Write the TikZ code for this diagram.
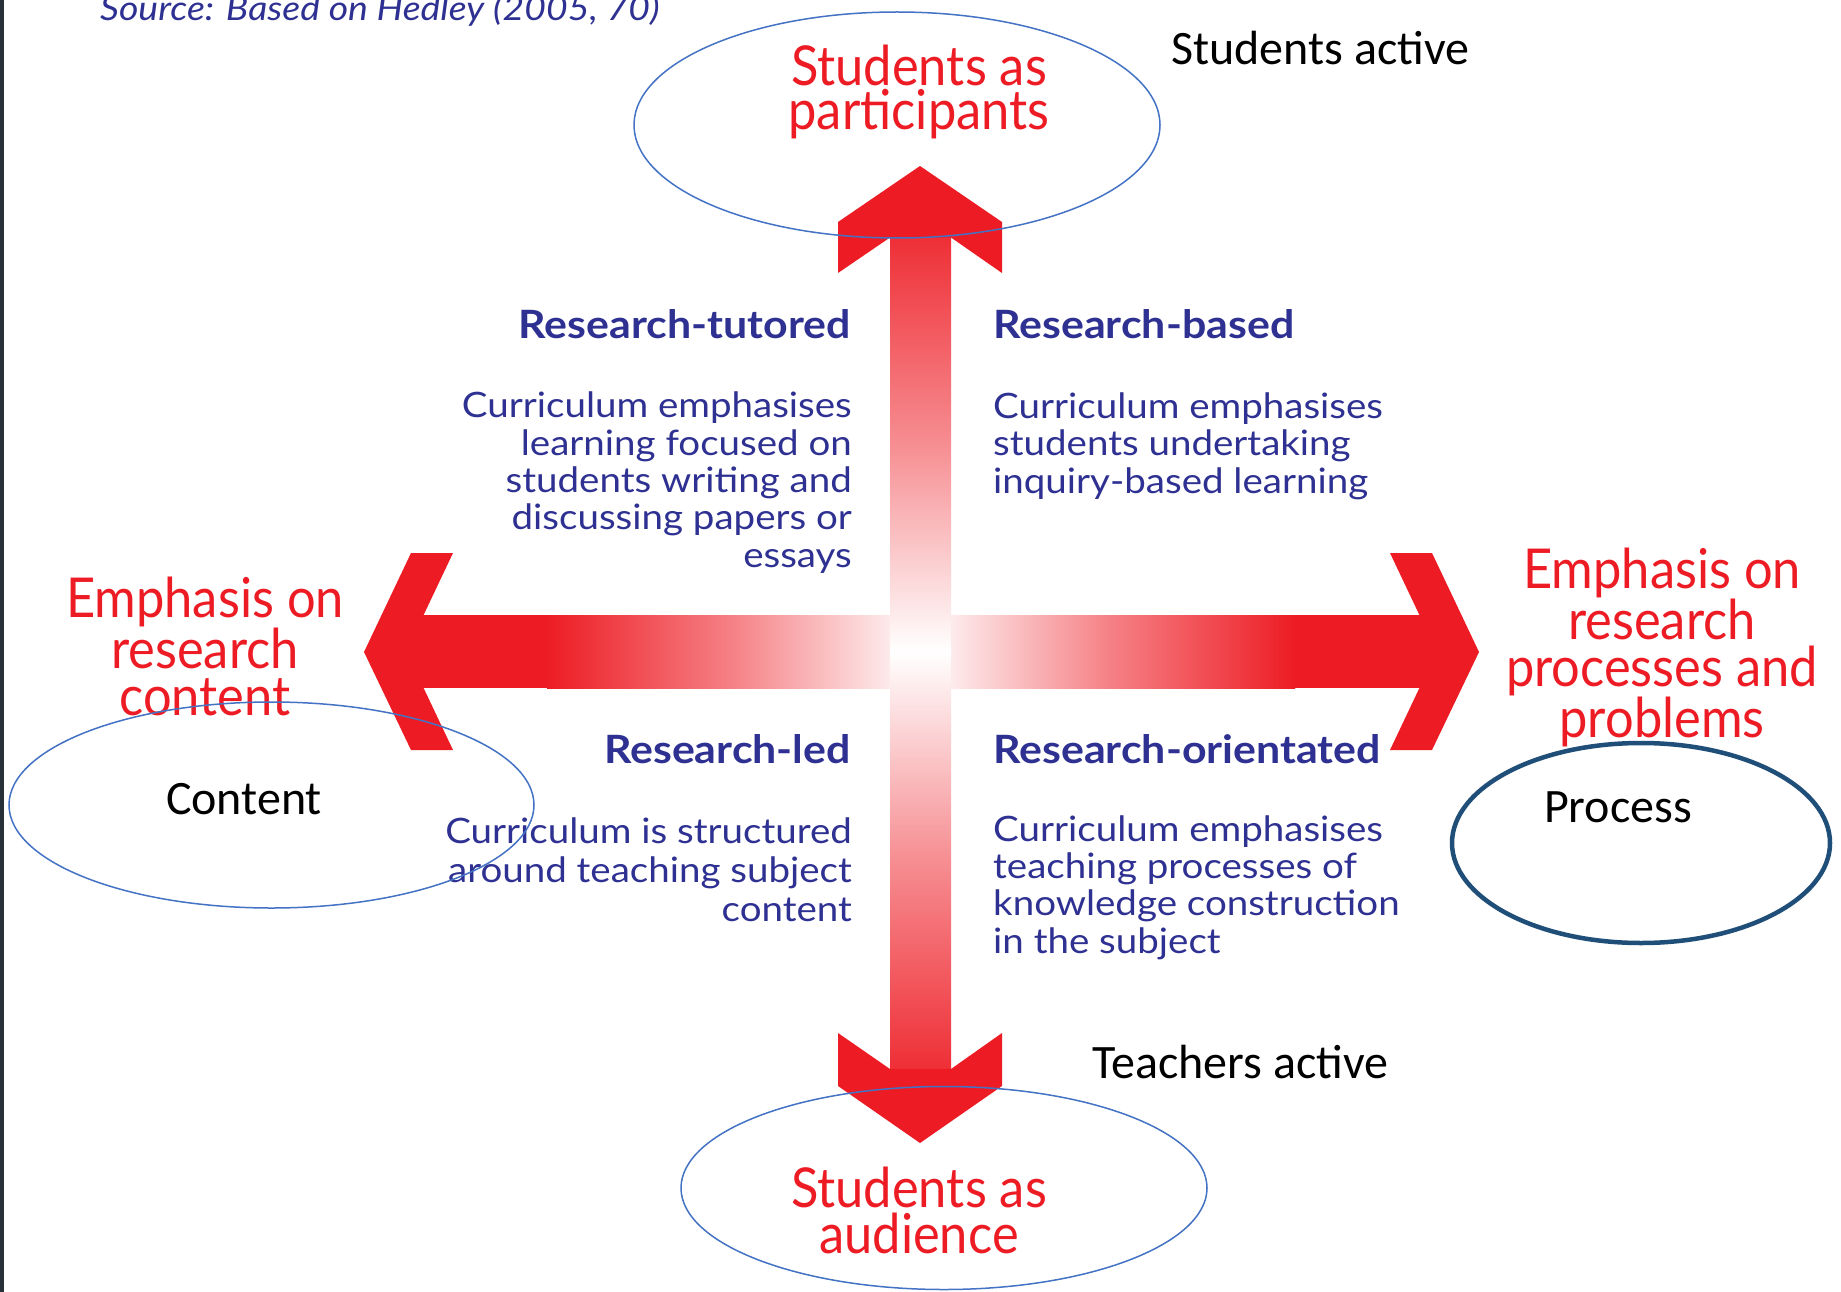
\documentclass[tikz,border=0pt]{standalone}
\usepackage{fontspec}
\setmainfont{Carlito}
\newfontfamily\gill[FakeStretch=1.1]{Lato}
\newfontfamily\gillred[FakeStretch=0.92]{Lato}
\newfontfamily\calibri{Carlito}
\usetikzlibrary{shapes.geometric}
\definecolor{arrred}{HTML}{ED1C24}
\definecolor{navy}{HTML}{2E3192}
\definecolor{ellblue}{HTML}{4472C4}
\definecolor{procblue}{HTML}{1F4E79}
\definecolor{stripcol}{HTML}{263238}
\begin{document}
\begin{tikzpicture}[x=1pt,y=-1pt,
  redtitle/.style={text=arrred, align=center, inner sep=0pt, anchor=base, font=\gillred\fontsize{55}{44}\selectfont},
  heading/.style={text=navy, inner sep=0pt, font=\gill\bfseries\fontsize{39}{39}\selectfont},
  bodytext/.style={text=navy, inner sep=0pt, font=\gill\fontsize{35}{37.3}\selectfont},
  calib/.style={text=black, inner sep=0pt, font=\calibri\fontsize{48}{50}\selectfont},
  ell/.style={ellipse, draw=ellblue, line width=1.5pt, inner sep=0pt},
  arrowfill/.style={fill=arrred, draw=none}]
\useasboundingbox (0,0) rectangle (1841,1292);
\clip (0,0) rectangle (1841,1292);
\fill[white] (0,0) rectangle (1841,1292);
\fill[stripcol] (0,0) rectangle (3.5,1292);

% horizontal shaft
\fill[arrred] (423,615) rectangle (548,688);
\shade[left color=arrred, right color=white, middle color=arrred!55] (547,615) rectangle (921,688);
\shade[left color=white, right color=arrred, middle color=arrred!55] (920,615) rectangle (1295,688);
\fill[arrred] (1294,615) rectangle (1420,688);
% vertical shaft
\shade[top color=arrred!92, bottom color=white, middle color=arrred!50] (890,236) rectangle (951,652);
\shade[top color=white, bottom color=arrred!92, middle color=arrred!50] (890,651) rectangle (951,1070);
% heads
\fill[arrowfill] (920,166) -- (1002,222) -- (1002,273) -- (951,237.5) -- (890,237.5) -- (838,273) -- (838,222) -- cycle;
\fill[arrowfill] (920,1143) -- (1002,1086) -- (1002,1033) -- (951,1069) -- (890,1069) -- (838,1033) -- (838,1086) -- cycle;
\fill[arrowfill] (364,652) -- (411,553) -- (453,553) -- (423.6,615) -- (423.6,688) -- (453,750) -- (411,750) -- cycle;
\fill[arrowfill] (1479,652) -- (1432,553) -- (1390,553) -- (1419.4,615) -- (1419.4,688) -- (1390,750) -- (1432,750) -- cycle;

% source
\node[text=navy, inner sep=0pt, anchor=base west, font=\gill\itshape\fontsize{34}{34}\selectfont] (source) at (100,21) {Source: Based on Hedley (2005, 70)};

% red titles (anchor = baseline of last line)
\node[redtitle] (sap) at (919,130) {Students as\\participants};
\node[redtitle, font=\gillred\fontsize{55}{46}\selectfont] (saa) at (919,1253) {Students as\\audience};
\node[redtitle, font=\gillred\fontsize{55}{47}\selectfont] (erc) at (205,715) {Emphasis on\\research\\content};
\node[redtitle, font=\gillred\fontsize{55}{47}\selectfont] (erp) at (1662,737) {Emphasis on\\research\\processes and\\problems};

% quadrant headings and texts
\node[heading, anchor=base east] (rt) at (851,338) {Research-tutored};
\node[bodytext, anchor=base east, align=right] (rtb) at (852,567) {Curriculum emphasises\\learning focused on\\students writing and\\discussing papers or\\essays};
\node[heading, anchor=base west] (rb) at (993,338) {Research-based};
\node[bodytext, anchor=base west, align=left] (rbb) at (993,493) {Curriculum emphasises\\students undertaking\\inquiry-based learning};
\node[heading, anchor=base east] (rl) at (851,763) {Research-led};
\node[bodytext, anchor=base east, align=right, font=\gill\fontsize{35}{39}\selectfont] (rlb) at (852,921) {Curriculum is structured\\around teaching subject\\content};
\node[heading, anchor=base west] (ro) at (993,763) {Research-orientated};
\node[bodytext, anchor=base west, align=left] (rob) at (993,953) {Curriculum emphasises\\teaching processes of\\knowledge construction\\in the subject};

% calibri labels
\node[calib, anchor=base west] (sact) at (1171,65) {Students active};
\node[calib, anchor=base west] (tact) at (1092,1078) {Teachers active};
\node[calib, anchor=base] (cont) at (244,814) {Content};
\node[calib, anchor=base] (proc) at (1618,822) {Process};

% ellipses
\node[ell, minimum width=526pt, minimum height=226pt] (etop) at (897,125) {};
\node[ell, minimum width=526pt, minimum height=203pt] (ebot) at (944,1188) {};
\node[ell, minimum width=525pt, minimum height=206pt] (eleft) at (271.5,805) {};
\node[ellipse, draw=procblue, line width=4.5pt, inner sep=0pt, minimum width=378pt, minimum height=200pt] (eright) at (1641,843) {};
\end{tikzpicture}
\end{document}
